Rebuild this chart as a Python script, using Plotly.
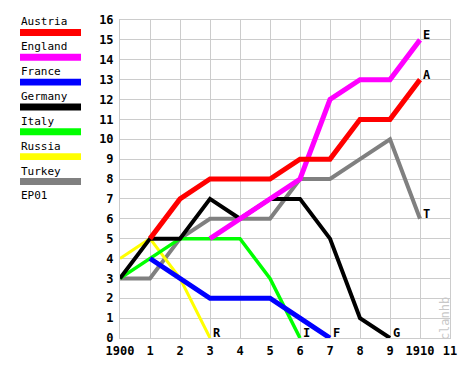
import plotly.graph_objects as go

x_tick_vals = [0, 1, 2, 3, 4, 5, 6, 7, 8, 9, 10, 11]
x_tick_labels = ["1900", "1", "2", "3", "4", "5", "6", "7", "8", "9", "1910", "11"]

austria_x = [1, 2, 3, 4, 5, 6, 7, 8, 9, 10]
austria_y = [5, 7, 8, 8, 8, 9, 9, 11, 11, 13]
england_x = [3, 4, 5, 6, 7, 8, 9, 10]
england_y = [5, 6, 7, 8, 12, 13, 13, 15]
france_x = [1, 2, 3, 4, 5, 6, 7]
france_y = [4, 3, 2, 2, 2, 1, 0]
germany_x = [0, 1, 2, 3, 4, 5, 6, 7, 8, 9]
germany_y = [3, 5, 5, 7, 6, 7, 7, 5, 1, 0]
italy_x = [0, 1, 2, 3, 4, 5, 6]
italy_y = [3, 4, 5, 5, 5, 3, 0]
russia_x = [0, 1, 2, 3]
russia_y = [4, 5, 3, 0]
turkey_x = [0, 1, 2, 3, 4, 5, 6, 7, 8, 9, 10]
turkey_y = [3, 3, 5, 6, 6, 6, 8, 8, 9, 10, 6]

series = [
    ("Austria", "A", austria_x, austria_y, "#ff0000", 5),
    ("England", "E", england_x, england_y, "#ff00ff", 5),
    ("France", "F", france_x, france_y, "#0000ff", 5),
    ("Germany", "G", germany_x, germany_y, "#000000", 4),
    ("Italy", "I", italy_x, italy_y, "#00ff00", 3.5),
    ("Russia", "R", russia_x, russia_y, "#ffff00", 3),
    ("Turkey", "T", turkey_x, turkey_y, "#808080", 4),
]
legend_extra = "EP01"

mono = "DejaVu Sans Mono"
fig = go.Figure()
draw_order = ["Turkey", "Russia", "Italy", "Germany", "France", "England", "Austria"]
lookup = {s[0]: s for s in series}
for name in draw_order:
    n, lab, xs, ys, col, w = lookup[name]
    fig.add_trace(go.Scatter(x=xs, y=ys, mode="lines", name=n,
                             line=dict(color=col, width=w), showlegend=False,
                             hoverinfo="skip"))

W, H = 475, 370
ml, mr, mt, mb = 120, 25, 20, 30
pw, ph = W - ml - mr, H - mt - mb
def px_to_paper_x(px):
    return (px - ml) / pw
def px_to_paper_y(py):
    return (H - mb - py) / ph

annotations = []
shapes = []
for n, lab, xs, ys, col, w in series:
    annotations.append(dict(x=xs[-1], y=ys[-1], xref="x", yref="y", text="<b>%s</b>" % lab,
                            showarrow=False, xanchor="left", yanchor="bottom",
                            xshift=1, yshift=-4,
                            font=dict(family=mono, size=12, color="black")))

leg_top = 22
for i, (n, lab, xs, ys, col, w) in enumerate(series):
    ty = leg_top + 25 * i
    annotations.append(dict(x=px_to_paper_x(19), y=px_to_paper_y(ty), xref="paper", yref="paper",
                            text=n, showarrow=False, xanchor="left", yanchor="middle",
                            font=dict(family=mono, size=11, color="black")))
    shapes.append(dict(type="rect", xref="paper", yref="paper",
                       x0=px_to_paper_x(20), x1=px_to_paper_x(81),
                       y0=px_to_paper_y(ty + 14), y1=px_to_paper_y(ty + 7),
                       fillcolor=col, line=dict(width=0)))
annotations.append(dict(x=px_to_paper_x(19), y=px_to_paper_y(leg_top + 25 * 7), xref="paper",
                        yref="paper", text=legend_extra, showarrow=False,
                        xanchor="left", yanchor="middle",
                        font=dict(family=mono, size=11, color="black")))

annotations.append(dict(x=px_to_paper_x(445), y=px_to_paper_y(321), xref="paper", yref="paper",
                        text="clanhb", showarrow=False, textangle=-90,
                        xanchor="center", yanchor="middle",
                        font=dict(family=mono, size=12, color="#c8c8c8")))

fig.update_layout(
    width=W, height=H,
    margin=dict(l=ml, r=mr, t=mt, b=mb, pad=0),
    paper_bgcolor="white", plot_bgcolor="white",
    xaxis=dict(range=[0, 11], tickmode="array", tickvals=x_tick_vals,
               ticktext=["<b>%s</b>" % t for t in x_tick_labels],
               showgrid=True, gridcolor="#cccccc", gridwidth=1, zeroline=False,
               showline=True, linecolor="#cccccc", mirror=True, ticks="",
               ticklabelstandoff=2,
               tickfont=dict(family=mono, size=12, color="black")),
    yaxis=dict(range=[0, 16], tickmode="array", tickvals=list(range(17)),
               ticktext=["<b>%d</b>" % v for v in range(17)],
               showgrid=True, gridcolor="#cccccc", gridwidth=1, zeroline=False,
               showline=True, linecolor="#cccccc", mirror=True, ticks="",
               ticklabelstandoff=3,
               tickfont=dict(family=mono, size=12, color="black")),
    annotations=annotations, shapes=shapes,
)
fig.write_html("out.html", config={"displayModeBar": False},
               post_script="document.body.style.margin='0';")
